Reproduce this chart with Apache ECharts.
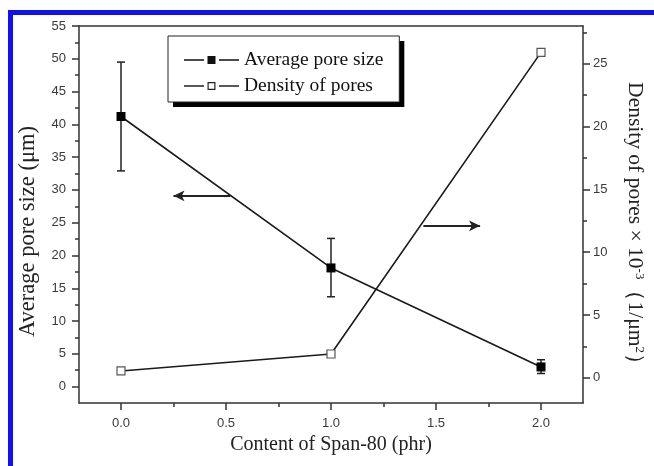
<!DOCTYPE html>
<html>
<head>
<meta charset="utf-8">
<script src="https://cdn.jsdelivr.net/npm/echarts@6/dist/echarts.min.js"></script>
<style>
html,body{margin:0;padding:0;background:#fff;}
#chart{width:654px;height:466px;}
</style>
</head>
<body>
<div id="chart"></div>
<script>
// ---- data ----
const xValues = [0, 1, 2];
const poreSize = [41.2, 18.1, 3.0];
const poreLow = [32.9, 13.7, 2.0];
const poreHigh = [49.5, 22.6, 4.1];
const density = [0.55, 1.9, 25.9];

const xTicks = [0, 0.5, 1, 1.5, 2];
const xMinor = [0.25, 0.75, 1.25, 1.75];
const leftTicks = [0, 5, 10, 15, 20, 25, 30, 35, 40, 45, 50, 55];
const leftMinor = [2.5, 7.5, 12.5, 17.5, 22.5, 27.5, 32.5, 37.5, 42.5, 47.5, 52.5];
const rightTicks = [0, 5, 10, 15, 20, 25];
const rightMinor = [2.5, 7.5, 12.5, 17.5, 22.5, 27.5];

const leftArrow = [[0.52, 29.1], [0.25, 29.1]];
const rightArrow = [[1.44, 12.1], [1.71, 12.1]];

const legendNames = ['Average pore size', 'Density of pores'];

// ---- styles ----
const axisColor = '#333';
const serif = '"Liberation Serif", "Times New Roman", serif';
const sans = '"Liberation Sans", Arial, sans-serif';

const iconFilled = 'path://M0,3.3H20V4.7H0Z M23.5,0H31.5V8H23.5Z M35,3.3H55V4.7H35Z';
const iconHollow = 'path://M0,3.3H20V4.7H0Z M23.5,0H31.5V8H23.5Z M24.7,1.2V6.8H30.3V1.2Z M35,3.3H55V4.7H35Z';

const chart = echarts.init(document.getElementById('chart'));

function legendBase(left, top) {
  return {
    orient: 'vertical', left: left, top: top,
    padding: [14, 16, 6, 16], itemGap: 6,
    itemWidth: 55, itemHeight: 8, itemTextGap: 5,
    textStyle: {fontFamily: serif, fontSize: 19.5, color: '#111'}
  };
}

const shadowLegend = Object.assign(legendBase(173, 41), {
  z: 4, selectedMode: false, backgroundColor: '#000', borderWidth: 0,
  textStyle: {fontFamily: serif, fontSize: 19.5, color: 'rgba(0,0,0,0)'},
  data: [
    {name: legendNames[0], icon: iconFilled, itemStyle: {color: 'rgba(0,0,0,0)', borderWidth: 0}},
    {name: legendNames[1], icon: iconHollow, itemStyle: {color: 'rgba(0,0,0,0)', borderWidth: 0}}
  ]
});
const mainLegend = Object.assign(legendBase(168, 36), {
  z: 5, backgroundColor: '#fff', borderColor: '#222', borderWidth: 1,
  data: [
    {name: legendNames[0], icon: iconFilled, itemStyle: {color: '#111', borderWidth: 0}},
    {name: legendNames[1], icon: iconHollow, itemStyle: {color: '#222', borderWidth: 0}}
  ]
});

function minorAxis(min, max, position, values) {
  return {
    type: 'value', min: min, max: max, position: position,
    axisLine: {show: false, onZero: false},
    axisTick: {show: true, length: 4, customValues: values, lineStyle: {color: axisColor, width: 1.5}},
    axisLabel: {show: false}, splitLine: {show: false}
  };
}

const option = {
  animation: false,
  backgroundColor: '#fff',
  graphic: [{
    type: 'rect', silent: true,
    shape: {x: 10.5, y: 12.5, width: 800, height: 600},
    style: {fill: 'none', stroke: '#1010f0', lineWidth: 5}
  }],
  grid: {left: 79, right: 71, top: 26, bottom: 63, containLabel: false},
  legend: [shadowLegend, mainLegend],
  xAxis: [
    {
      type: 'value', min: -0.2, max: 2.2, position: 'bottom',
      axisLine: {show: true, onZero: false, lineStyle: {color: axisColor, width: 1.5}},
      axisTick: {show: true, length: 7, customValues: xTicks, lineStyle: {color: axisColor, width: 1.5}},
      axisLabel: {show: true, customValues: xTicks, margin: 14, color: '#3a3a3a', fontFamily: sans, fontSize: 13,
        formatter: v => v.toFixed(1)},
      splitLine: {show: false},
      name: 'Content of Span-80 (phr)', nameLocation: 'middle', nameGap: 30,
      nameTextStyle: {fontFamily: serif, fontSize: 20, color: '#222'}
    },
    minorAxis(-0.2, 2.2, 'bottom', xMinor),
    {
      type: 'value', min: -0.2, max: 2.2, position: 'top',
      axisLine: {show: true, onZero: false, lineStyle: {color: axisColor, width: 1.5}},
      axisTick: {show: false}, axisLabel: {show: false}, splitLine: {show: false}
    }
  ],
  yAxis: [
    {
      type: 'value', min: -2.5, max: 55, position: 'left',
      axisLine: {show: true, onZero: false, lineStyle: {color: axisColor, width: 1.5}},
      axisTick: {show: true, length: 7, customValues: leftTicks, lineStyle: {color: axisColor, width: 1.5}},
      axisLabel: {show: true, customValues: leftTicks, margin: 13, color: '#3a3a3a', fontFamily: sans, fontSize: 13},
      splitLine: {show: false},
      name: 'Average pore size (μm)', nameLocation: 'middle', nameGap: 39,
      nameTextStyle: {fontFamily: serif, fontSize: 22.5, color: '#222', padding: [0, 34, 0, 0]}
    },
    {
      type: 'value', min: -2, max: 28, position: 'right',
      axisLine: {show: true, onZero: false, lineStyle: {color: axisColor, width: 1.5}},
      axisTick: {show: true, length: 7, customValues: rightTicks, lineStyle: {color: axisColor, width: 1.5}},
      axisLabel: {show: true, customValues: rightTicks, margin: 10, color: '#3a3a3a', fontFamily: sans, fontSize: 13},
      splitLine: {show: false},
      name: '{t|Density of pores × 10}{s|-3}{t|（1/μm}{s|2}{t|）}', nameLocation: 'middle', nameGap: 40, nameRotate: -90,
      nameTextStyle: {
        fontFamily: serif, fontSize: 21.5, color: '#222', padding: [0, 0, 0, 28],
        rich: {
          t: {fontFamily: serif, fontSize: 21.5, color: '#222'},
          s: {fontFamily: serif, fontSize: 13, color: '#222', verticalAlign: 'top', padding: [0, 0, 10, 0]}
        }
      }
    },
    minorAxis(-2.5, 55, 'left', leftMinor),
    minorAxis(-2, 28, 'right', rightMinor)
  ],
  series: [
    {
      name: 'Pore size error', type: 'custom', xAxisIndex: 0, yAxisIndex: 0, z: 3,
      data: xValues.map((x, i) => [x, poreLow[i], poreHigh[i]]),
      encode: {x: 0, y: [1, 2]},
      renderItem: function (params, api) {
        const x = api.value(0);
        const lo = api.coord([x, api.value(1)]);
        const hi = api.coord([x, api.value(2)]);
        const w = 4;
        const st = {stroke: '#222', lineWidth: 1.5};
        return {
          type: 'group',
          children: [
            {type: 'line', shape: {x1: lo[0], y1: lo[1], x2: hi[0], y2: hi[1]}, style: st},
            {type: 'line', shape: {x1: lo[0] - w, y1: lo[1], x2: lo[0] + w, y2: lo[1]}, style: st},
            {type: 'line', shape: {x1: hi[0] - w, y1: hi[1], x2: hi[0] + w, y2: hi[1]}, style: st}
          ]
        };
      }
    },
    {
      name: legendNames[1], type: 'line', xAxisIndex: 0, yAxisIndex: 1, z: 4,
      data: xValues.map((x, i) => [x, density[i]]),
      symbol: 'rect', symbolSize: 8,
      lineStyle: {color: '#1a1a1a', width: 1.6},
      itemStyle: {color: '#fff', borderColor: '#555', borderWidth: 1.2},
      markLine: {
        silent: true, symbol: ['none', 'arrow'], symbolSize: [8, 11],
        label: {show: false},
        lineStyle: {color: '#222', width: 1.8, type: 'solid'},
        data: [[{coord: rightArrow[0]}, {coord: rightArrow[1]}]]
      }
    },
    {
      name: legendNames[0], type: 'line', xAxisIndex: 0, yAxisIndex: 0, z: 5,
      data: xValues.map((x, i) => [x, poreSize[i]]),
      symbol: 'rect', symbolSize: 9,
      lineStyle: {color: '#1a1a1a', width: 1.6},
      itemStyle: {color: '#000', borderColor: '#000', borderWidth: 0},
      markLine: {
        silent: true, symbol: ['none', 'arrow'], symbolSize: [8, 11],
        label: {show: false},
        lineStyle: {color: '#222', width: 1.8, type: 'solid'},
        data: [[{coord: leftArrow[0]}, {coord: leftArrow[1]}]]
      }
    }
  ]
};
chart.setOption(option);
</script>
</body>
</html>
